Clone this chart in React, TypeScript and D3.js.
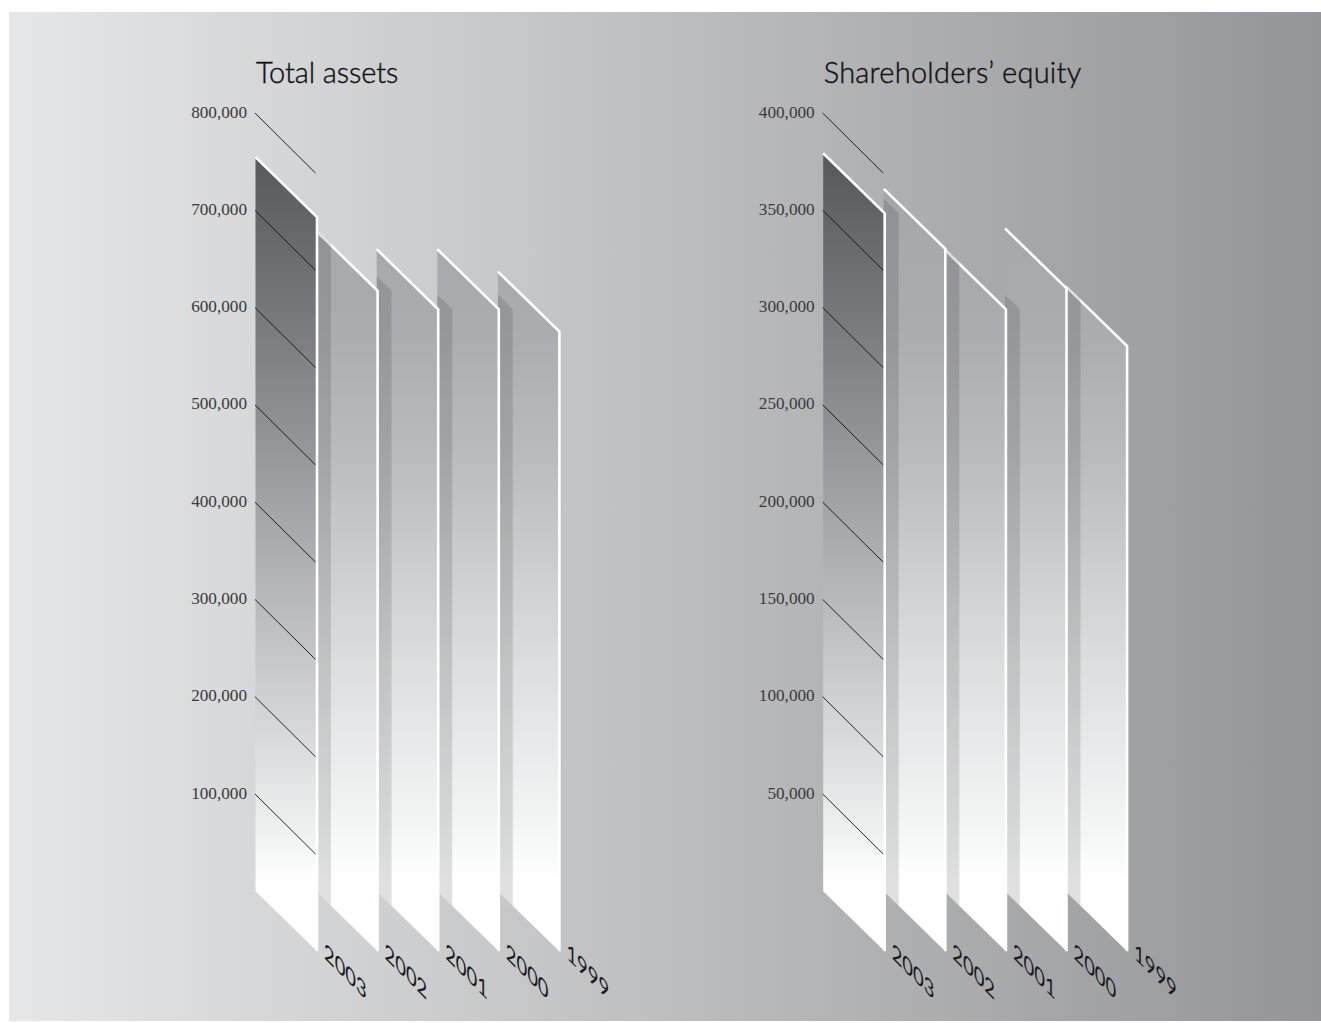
import React from "react";
import * as d3 from "d3";

// Fiscal years, front bar first.
const years = ["2003", "2002", "2001", "2000", "1999"];
const totalAssets = [754700, 679000, 660000, 660000, 637000];
const shareholdersEquity = [379300, 361000, 330000, 340700, 311000];
const assetTicks = [100000, 200000, 300000, 400000, 500000, 600000, 700000, 800000];
const equityTicks = [50000, 100000, 150000, 200000, 250000, 300000, 350000, 400000];

const frontStops: [number, string][] = [
  [157, "#58595b"],
  [300, "#747578"],
  [456, "#96989b"],
  [600, "#b8b9bb"],
  [673, "#c9cacb"],
  [836, "#f0f1f1"],
  [880, "#ffffff"],
];
const backStops: [number, string][] = [
  [200, "#a5a7aa"],
  [330, "#aaacaf"],
  [456, "#b9bbbd"],
  [673, "#dedfe0"],
  [836, "#f5f6f6"],
  [880, "#ffffff"],
];

const WIDTH = 1321;
const HEIGHT = 1023;
const TITLE_FONT = "Lato, 'Open Sans', sans-serif";
const TICK_FONT = "'Liberation Serif', serif";
const fmt = d3.format(",");

const BASE_Y = 891.3; // y of the zero line at a bar's left edge
const TOP_Y = 113;
const SKEW_X = 61.5; // each bar is a parallelogram, this wide...
const SKEW_Y = 60; // ...and this far down to the right
const STEP = 60.6;
const SHADOW = 14;
const STROKE = 2.6;

type PanelProps = {
  id: string;
  title: string;
  titleSpacing: number;
  values: number[];
  ticks: number[];
  domainMax: number;
  left: number;
};

function Gradient({ id, stops }: { id: string; stops: [number, string][] }) {
  const [y0, y1] = [stops[0][0], stops[stops.length - 1][0]];
  return (
    <linearGradient id={id} gradientUnits="userSpaceOnUse" x1="0" x2="0" y1={y0} y2={y1}>
      {stops.map(([at, color]) => (
        <stop key={at} offset={(at - y0) / (y1 - y0)} stopColor={color} />
      ))}
    </linearGradient>
  );
}

function Panel({ id, title, titleSpacing, values, ticks, domainMax, left }: PanelProps) {
  const y = d3.scaleLinear().domain([0, domainMax]).range([BASE_Y, TOP_Y]);
  const right = d3
    .scalePoint<string>()
    .domain(years)
    .range([left + 62, left + 62 + STEP * (years.length - 1)]);

  const bar = (i: number, dx = 0, lift = 0) => {
    const r = right(years[i])! + dx;
    const l = r - SKEW_X;
    const t = y(values[i]) - lift;
    return (
      d3.line()([
        [l, t],
        [r, t + SKEW_Y],
        [r, BASE_Y + SKEW_Y],
        [l, BASE_Y],
      ]) + "Z"
    );
  };

  const order = d3.range(years.length).reverse();

  return (
    <g>
      <defs>
        <Gradient id={`${id}-front`} stops={frontStops} />
        <Gradient id={`${id}-back`} stops={backStops} />
        {years.map((yr, i) => (
          <clipPath id={`${id}-clip-${i}`} key={yr}>
            <path d={bar(i, 0, STROKE * 0.7)} />
          </clipPath>
        ))}
      </defs>

      <text
        x={left + 1}
        y={83}
        fontFamily={TITLE_FONT}
        fontSize={29}
        fontWeight={300}
        letterSpacing={titleSpacing}
        fill="#111"
        stroke="#111"
        strokeWidth={0.4}
      >
        {title}
      </text>

      {order.map((i) => {
        const yr = years[i];
        const r = right(yr)!;
        const l = r - SKEW_X;
        const t = y(values[i]);
        return (
          <g key={yr}>
            <path d={bar(i)} fill={`url(#${id}-${i === 0 ? "front" : "back"})`} />
            <path
              d={d3.line()([
                [l, t],
                [r, t + SKEW_Y],
                [r, BASE_Y + SKEW_Y],
              ])!}
              fill="none"
              stroke="#fff"
              strokeWidth={STROKE}
            />
            {i > 0 && (
              <g clipPath={`url(#${id}-clip-${i})`}>
                <path d={bar(i - 1, SHADOW)} fill="#000" fillOpacity={0.12} />
              </g>
            )}
          </g>
        );
      })}

      {ticks.map((tick) => (
        <g key={tick}>
          <line
            x1={left}
            y1={y(tick)}
            x2={left + 60.5}
            y2={y(tick) + 60}
            stroke="#111"
            strokeWidth={0.9}
          />
          <text
            x={left - 8}
            y={y(tick) + 4.5}
            textAnchor="end"
            fontFamily={TICK_FONT}
            fontSize={17.2}
            fill="#3a3a3c"
          >
            {fmt(tick)}
          </text>
        </g>
      ))}

      {/* Year labels are sheared along the same diagonal as the bar tops, stems stay vertical. */}
      {years.map((yr) => (
        <text
          key={yr}
          transform={`translate(${right(yr)! + 7},${958}) skewY(45) scale(0.8,1)`}
          fontFamily={TITLE_FONT}
          fontSize={23}
          fontWeight={400}
          fill="#1c1c1e"
        >
          {yr}
        </text>
      ))}
    </g>
  );
}

export default function App() {
  return (
    <svg
      width={WIDTH}
      height={HEIGHT}
      viewBox={`0 0 ${WIDTH} ${HEIGHT}`}
      style={{ position: "absolute", left: 0, top: 0, display: "block" }}
    >
      <defs>
        <linearGradient id="backdrop" x1="0" x2="1" y1="0" y2="0">
          <stop offset="0" stopColor="#e6e7e8" />
          <stop offset="1" stopColor="#939598" />
        </linearGradient>
      </defs>
      <rect x={0} y={0} width={WIDTH} height={HEIGHT} fill="#fff" />
      <rect x={9} y={12} width={WIDTH - 9} height={1009} fill="url(#backdrop)" />
      <Panel
        id="assets"
        title="Total assets"
        titleSpacing={-0.1}
        values={totalAssets}
        ticks={assetTicks}
        domainMax={800000}
        left={255}
      />
      <Panel
        id="equity"
        title="Shareholders’ equity"
        titleSpacing={0.25}
        values={shareholdersEquity}
        ticks={equityTicks}
        domainMax={400000}
        left={822.7}
      />
    </svg>
  );
}
